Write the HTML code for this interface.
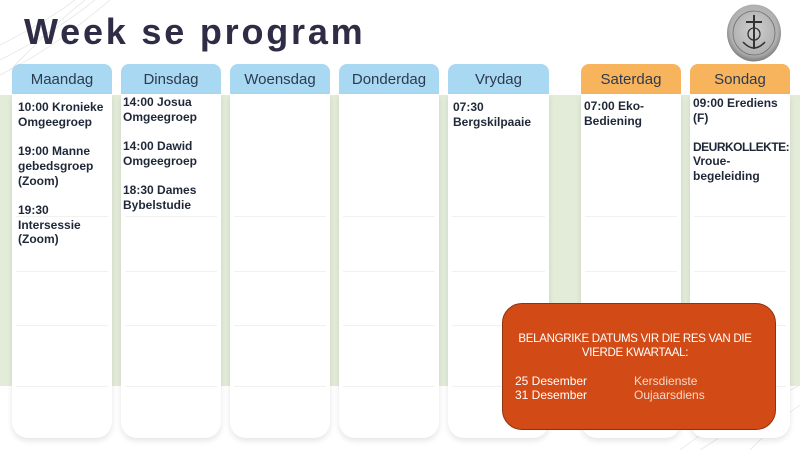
<!DOCTYPE html>
<html><head><meta charset="utf-8">
<style>
html,body{margin:0;padding:0;}
body{width:800px;height:450px;position:relative;overflow:hidden;background:#fff;font-family:"Liberation Sans",sans-serif;}
.band{position:absolute;left:0;top:95px;width:800px;height:291px;background:#e3ebd9;}
.title{position:absolute;left:24px;top:8px;font-size:36px;font-weight:bold;color:#2f2c46;letter-spacing:2.8px;line-height:48px;white-space:nowrap;}
.col{position:absolute;top:64px;width:100px;}
.hd{height:30px;border-radius:8px 8px 0 0;background:#a9d8f2;color:#2c3a4f;font-size:15px;text-align:center;line-height:31px;}
.hd.o{background:#f8b45c;}
.card{position:absolute;top:30px;left:0;width:100%;height:344px;background:#fff;border-radius:0 0 16px 16px;box-shadow:0 3px 6px rgba(0,0,0,0.10);overflow:hidden;}
.ln{position:absolute;left:4px;right:4px;height:1px;background:#f1f2ef;}
.tx{position:absolute;left:6px;top:6px;font-size:12px;font-weight:bold;color:#1f2838;line-height:14.7px;white-space:nowrap;}
.box{position:absolute;left:502px;top:303px;width:272px;height:125px;background:#d24b17;border:1px solid #8e3210;border-radius:20px;color:#fff;}
.bh{position:absolute;left:-4px;width:100%;top:28px;text-align:center;font-size:11.5px;line-height:14px;letter-spacing:-0.3px;}
.d{position:absolute;font-size:12px;line-height:14px;white-space:nowrap;}
</style></head><body>
<svg style="position:absolute;left:0;top:0" width="800" height="450">
<g fill="none" stroke="#e0e4e0" stroke-width="0.7">
<path d="M0 60 C40 40 70 20 95 0"/>
<path d="M0 75 C50 50 80 25 110 0"/>
<path d="M0 45 C30 30 55 15 75 0"/>
<path d="M10 70 C50 30 60 20 85 0"/>
<path d="M680 450 C720 420 760 395 800 370"/>
<path d="M700 450 C740 425 770 400 800 385"/>
<path d="M750 450 C770 430 785 415 800 405"/>
</g>
</svg>
<div class="band"></div>
<div class="title">Week se program</div>

<svg style="position:absolute;left:726px;top:4px" width="56" height="58">
<defs><radialGradient id="g" cx="50%" cy="45%" r="55%"><stop offset="0" stop-color="#cfcfcf"/><stop offset="0.8" stop-color="#b0b0b0"/><stop offset="1" stop-color="#7d7d7d"/></radialGradient></defs>
<ellipse cx="28" cy="29" rx="27" ry="28.5" fill="url(#g)"/>
<ellipse cx="28" cy="29" rx="21" ry="22" fill="none" stroke="#707070" stroke-width="0.8"/>
<line x1="28" y1="11" x2="28" y2="45" stroke="#333" stroke-width="2"/>
<line x1="20" y1="18" x2="36" y2="18" stroke="#333" stroke-width="2"/>
<circle cx="28" cy="30" r="6" fill="none" stroke="#333" stroke-width="1.3"/>
<path d="M17 38 Q28 50 39 38" fill="none" stroke="#333" stroke-width="1.6"/>
</svg>

<div class="col" style="left:12px"><div class="hd">Maandag</div><div class="card"><div class="ln" style="top:122px"></div><div class="ln" style="top:177px"></div><div class="ln" style="top:231px"></div><div class="ln" style="top:292px"></div>
<div class="tx">10:00 Kronieke<br>Omgeegroep<br><br>19:00 Manne<br>gebedsgroep<br>(Zoom)<br><br>19:30<br>Intersessie<br>(Zoom)</div></div></div>

<div class="col" style="left:121px"><div class="hd">Dinsdag</div><div class="card"><div class="ln" style="top:122px"></div><div class="ln" style="top:177px"></div><div class="ln" style="top:231px"></div><div class="ln" style="top:292px"></div>
<div class="tx" style="left:2px;top:1px">14:00 Josua<br>Omgeegroep<br><br>14:00 Dawid<br>Omgeegroep<br><br>18:30 Dames<br>Bybelstudie</div></div></div>

<div class="col" style="left:230px"><div class="hd">Woensdag</div><div class="card"><div class="ln" style="top:122px"></div><div class="ln" style="top:177px"></div><div class="ln" style="top:231px"></div><div class="ln" style="top:292px"></div></div></div>

<div class="col" style="left:339px"><div class="hd">Donderdag</div><div class="card"><div class="ln" style="top:122px"></div><div class="ln" style="top:177px"></div><div class="ln" style="top:231px"></div><div class="ln" style="top:292px"></div></div></div>

<div class="col" style="left:448px;width:101px"><div class="hd">Vrydag</div><div class="card"><div class="ln" style="top:122px"></div><div class="ln" style="top:177px"></div><div class="ln" style="top:231px"></div><div class="ln" style="top:292px"></div>
<div class="tx" style="left:5px;top:6px;line-height:15px">07:30<br>Bergskilpaaie</div></div></div>

<div class="col" style="left:581px"><div class="hd o">Saterdag</div><div class="card"><div class="ln" style="top:122px"></div><div class="ln" style="top:177px"></div><div class="ln" style="top:231px"></div><div class="ln" style="top:292px"></div>
<div class="tx" style="left:3px;top:5px;line-height:15px">07:00 Eko-<br>Bediening</div></div></div>

<div class="col" style="left:690px"><div class="hd o">Sondag</div><div class="card"><div class="ln" style="top:122px"></div><div class="ln" style="top:177px"></div><div class="ln" style="top:231px"></div><div class="ln" style="top:292px"></div>
<div class="tx" style="left:3px;top:2px;line-height:14.6px">09:00 Erediens<br>(F)<br><br><span style="letter-spacing:-0.5px">DEURKOLLEKTE:</span><br>Vroue-<br>begeleiding</div></div></div>

<div class="box">
<div class="bh">BELANGRIKE DATUMS VIR DIE RES VAN DIE<br>VIERDE KWARTAAL:</div>
<div class="d" style="left:12px;top:70px">25 Desember<br>31 Desember</div>
<div class="d" style="left:131px;top:70px;color:#f6d8c8">Kersdienste<br>Oujaarsdiens</div>
</div>
</body></html>
